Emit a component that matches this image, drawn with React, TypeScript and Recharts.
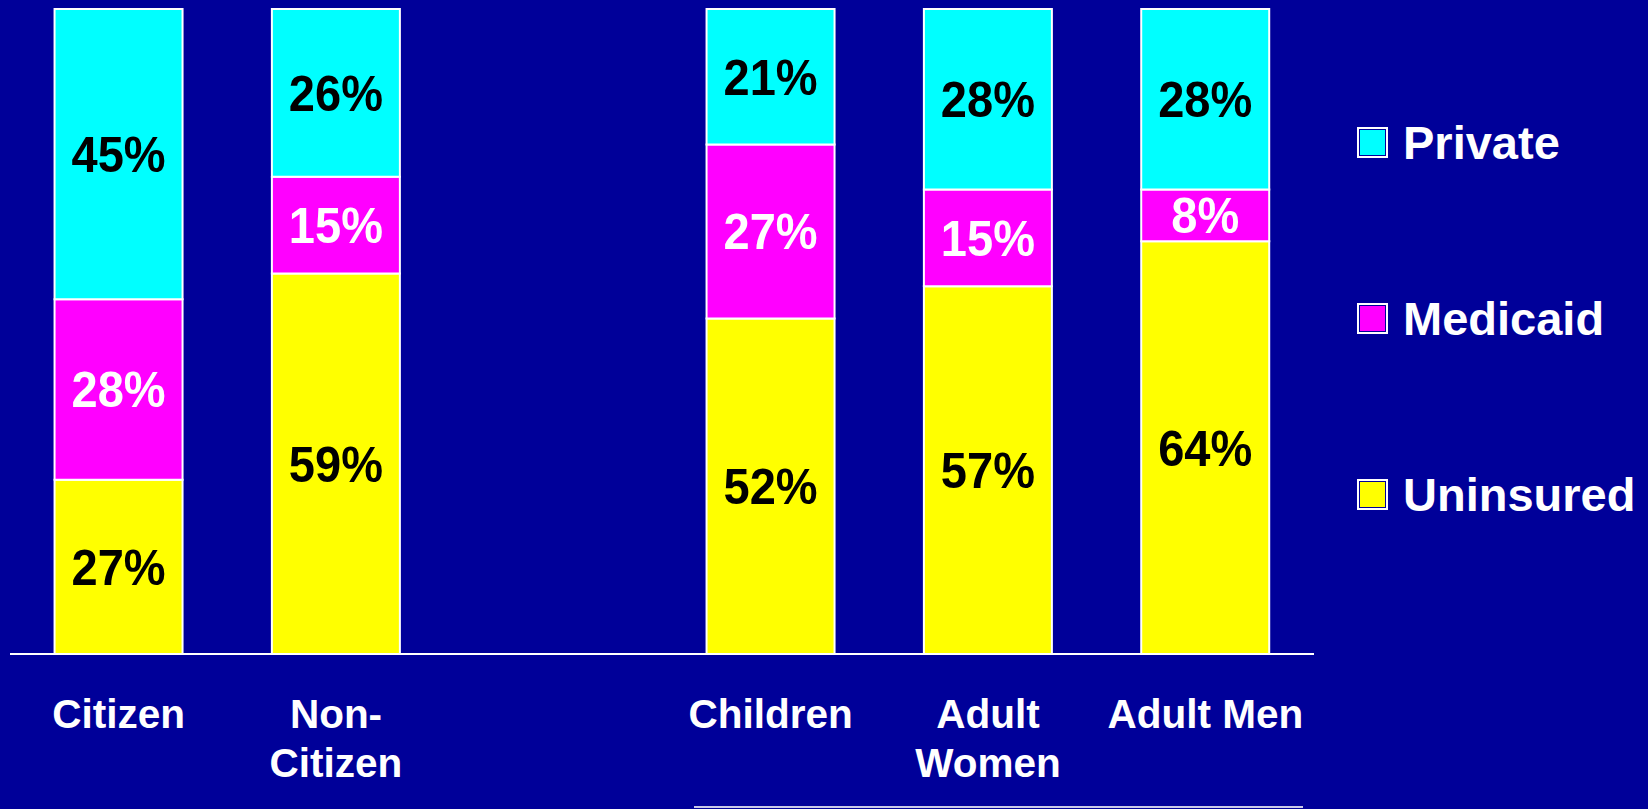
import React from "react";
import { BarChart, Bar, XAxis, YAxis, LabelList, Legend } from "recharts";

const categories = ["Citizen", "Non-Citizen", "gap", "Children", "Adult Women", "Adult Men"];
const tickLines: string[][] = [["Citizen"], ["Non-", "Citizen"], [], ["Children"], ["Adult", "Women"], ["Adult Men"]];
const uninsured: (number | null)[] = [27, 59, null, 52, 57, 64];
const medicaid: (number | null)[] = [28, 15, null, 27, 15, 8];
const privateIns: (number | null)[] = [45, 26, null, 21, 28, 28];

const data = categories.map((c, i) => ({
  name: c,
  idx: i,
  Uninsured: uninsured[i],
  Medicaid: medicaid[i],
  Private: privateIns[i],
}));

const BG = "#000099";
const FONT = "'Liberation Sans', Arial, Helvetica, sans-serif";

const makeLabel = (color: string) => (props: any) => {
  const { x, y, width, height, value } = props;
  if (value == null) return null;
  const cx = Number(x) + Number(width) / 2;
  const cy = Number(y) + Number(height) / 2;
  const fs = 50;
  return (
    <text
      x={0}
      y={0}
      transform={`translate(${cx}, ${cy + fs * 0.358}) scale(0.94, 1)`}
      textAnchor="middle"
      fill={color}
      fontSize={fs}
      fontWeight="bold"
      fontFamily={FONT}
    >
      {`${value}%`}
    </text>
  );
};

const CategoryTick = (props: any) => {
  const { x, y, payload } = props;
  const lines = tickLines[payload.index] || [];
  return (
    <text x={x} y={y} textAnchor="middle" fill="#ffffff" fontSize={40.5} fontWeight="bold" fontFamily={FONT}>
      {lines.map((l, i) => (
        <tspan key={i} x={x} dy={i === 0 ? 74 : 49}>
          {l}
        </tspan>
      ))}
    </text>
  );
};

const legendOrder = ["Private", "Medicaid", "Uninsured"];

const LegendContent = (props: any) => {
  const payload = props.payload || [];
  const items = legendOrder.map((k) => payload.find((p: any) => p.value === k || p.dataKey === k)).filter(Boolean);
  return (
    <div style={{ display: "flex", flexDirection: "column" }}>
      {items.map((p: any, i: number) => (
        <div key={i} style={{ display: "flex", alignItems: "center", height: 33, marginBottom: i < items.length - 1 ? 143 : 0 }}>
          <div
            style={{
              width: 27,
              height: 27,
              border: "2px solid #ffffff",
              boxShadow: `inset 0 0 0 1px ${BG}`,
              background: p.color,
              boxSizing: "content-box",
            }}
          />
          <span
            style={{
              marginLeft: 15,
              color: "#ffffff",
              fontSize: 47,
              fontWeight: "bold",
              fontFamily: FONT,
              lineHeight: "33px",
              whiteSpace: "nowrap",
            }}
          >
            {p.value}
          </span>
        </div>
      ))}
    </div>
  );
};

export default function App() {
  return (
    <div style={{ position: "absolute", left: 0, top: 0, width: 1648, height: 809, background: BG, overflow: "hidden" }}>
      <BarChart
        width={1648}
        height={809}
        data={data}
        margin={{ top: 9, right: 44, bottom: 0, left: 10 }}
        barCategoryGap="20.5%"
      >
        <XAxis
          dataKey="name"
          axisLine={{ stroke: "#ffffff", strokeWidth: 2 }}
          tickLine={false}
          tickSize={0}
          tickMargin={0}
          interval={0}
          tick={<CategoryTick />}
          height={155}
        />
        <YAxis hide domain={[0, 100]} />
        <Legend
          layout="vertical"
          verticalAlign="top"
          align="right"
          content={<LegendContent />}
          wrapperStyle={{ position: "absolute", left: 1357, top: 126, width: 290 }}
        />
        <Bar dataKey="Uninsured" stackId="a" fill="#FFFF00" stroke="#ffffff" strokeWidth={2} isAnimationActive={false}>
          <LabelList dataKey="Uninsured" content={makeLabel("#000000")} />
        </Bar>
        <Bar dataKey="Medicaid" stackId="a" fill="#FF00FF" stroke="#ffffff" strokeWidth={2} isAnimationActive={false}>
          <LabelList dataKey="Medicaid" content={makeLabel("#ffffff")} />
        </Bar>
        <Bar dataKey="Private" stackId="a" fill="#00FFFF" stroke="#ffffff" strokeWidth={2} isAnimationActive={false}>
          <LabelList dataKey="Private" content={makeLabel("#000000")} />
        </Bar>
      </BarChart>
      <div style={{ position: "absolute", left: 694, top: 806, width: 609, height: 2, background: "#C8C8E8" }} />
    </div>
  );
}
